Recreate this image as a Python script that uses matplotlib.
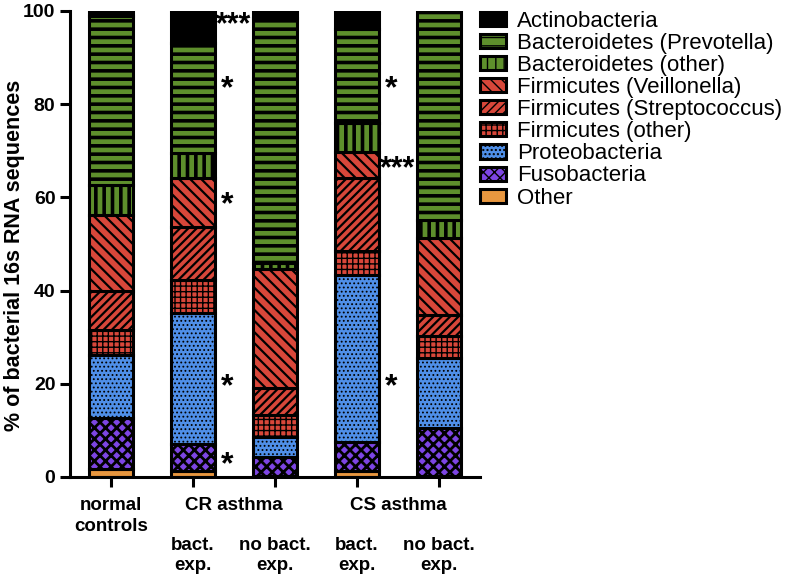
import matplotlib
matplotlib.use("Agg")
import matplotlib.pyplot as plt
import numpy as np

plt.rcParams["font.family"] = ["Liberation Sans", "DejaVu Sans"]

groups = ["normal controls", "CR bact. exp.", "CR no bact. exp.", "CS bact. exp.", "CS no bact. exp."]
taxa = [
    "Other",
    "Fusobacteria",
    "Proteobacteria",
    "Firmicutes (other)",
    "Firmicutes (Streptococcus)",
    "Firmicutes (Veillonella)",
    "Bacteroidetes (other)",
    "Bacteroidetes (Prevotella)",
    "Actinobacteria",
]
# percentages per taxon, bottom to top, for each group
other = [1.7, 1.3, 0.3, 1.3, 0.2]
fuso = [11.0, 5.7, 4.0, 6.2, 10.3]
proteo = [13.5, 28.2, 4.3, 35.8, 15.0]
firm_other = [5.3, 7.1, 4.7, 5.2, 4.8]
strep = [8.5, 11.4, 5.8, 15.7, 4.5]
veillonella = [16.2, 10.4, 25.5, 5.6, 16.5]
bact_other = [6.5, 5.5, 1.3, 6.1, 3.9]
prevotella = [36.3, 23.5, 52.6, 20.2, 44.8]
actino = [1.0, 6.9, 1.5, 3.9, 0.0]

series = [other, fuso, proteo, firm_other, strep, veillonella, bact_other, prevotella, actino]
colors = ["#e8973f", "#7d45e3", "#4f8fe8", "#d8473a", "#d8473a", "#d8473a",
          "#5e8f2c", "#5e8f2c", "#000000"]
hatches = ["", "xxx", "....", "+++", "////", "\\\\\\", "||", "--", ""]
hatch_lw = [1.0, 2.0, 0.8, 1.0, 1.6, 1.6, 2.6, 2.6, 1.0]

# significance marks: (group index, y value, text)
sig_marks = [
    (1, 97.0, "***"), (1, 83.2, "*"), (1, 58.2, "*"), (1, 19.2, "*"), (1, 2.5, "*"),
    (3, 83.2, "*"), (3, 66.0, "***"), (3, 19.2, "*"),
]

fig = plt.figure(figsize=(7.87, 5.76), dpi=100)
ax = fig.add_axes([0.089, 0.172, 0.521, 0.809])

x = np.arange(len(groups))
bottom = np.zeros(len(groups))
handles = {}
for name, vals, col, h, hlw in zip(taxa, series, colors, hatches, hatch_lw):
    vals = np.array(vals)
    plt.rcParams["hatch.linewidth"] = hlw
    bars = ax.bar(x, vals, 0.54, bottom=bottom, color=col, edgecolor="black",
                  linewidth=2.2, hatch=h)
    for b in bars:
        if hasattr(b, "set_hatch_linewidth"):
            b.set_hatch_linewidth(hlw)
    handles[name] = bars
    bottom += vals

for gi, yv, txt in sig_marks:
    if txt == "*":
        ax.text(gi + 0.41, yv, txt, fontsize=23, fontweight="bold", ha="center", va="center")
    else:
        ax.text(gi + 0.28, yv, txt, fontsize=22, fontweight="bold", ha="left", va="center")

ax.set_xlim(-0.5, 4.5)
ax.set_ylim(0, 100)
ax.set_yticks([0, 20, 40, 60, 80, 100])
ax.set_xticks(x)
ax.set_xticklabels([])
ax.tick_params(axis="both", width=2.2, length=7, labelsize=14)
for lbl in ax.get_yticklabels():
    lbl.set_fontweight("bold")
for s in ["top", "right"]:
    ax.spines[s].set_visible(False)
for s in ["left", "bottom"]:
    ax.spines[s].set_linewidth(2.2)
fig.text(0.019, 1 - 255 / 576, "% of bacterial 16s RNA sequences", fontsize=15.5,
         fontweight="bold", rotation=90, ha="center", va="center")

# x labels
lab_kw = dict(fontsize=13.5, fontweight="bold", ha="center", va="top",
              transform=ax.get_xaxis_transform(), linespacing=1.25)
ax.text(0, -0.044, "normal\ncontrols", **lab_kw)
ax.text(1.5, -0.044, "CR asthma", **lab_kw)
ax.text(3.5, -0.044, "CS asthma", **lab_kw)
for gi, txt in [(1, "bact.\nexp."), (2, "no bact.\nexp."), (3, "bact.\nexp."), (4, "no bact.\nexp.")]:
    ax.text(gi, -0.128, txt, **lab_kw)

order = taxa[::-1]
leg = fig.legend([handles[n][0] for n in order], order, loc="upper left",
                 bbox_to_anchor=(0.598, 0.997), frameon=False, fontsize=16,
                 handlelength=1.2, handleheight=0.6, labelspacing=0.05,
                 handletextpad=0.5, borderaxespad=0)

fig.savefig("out.png", dpi=100)
